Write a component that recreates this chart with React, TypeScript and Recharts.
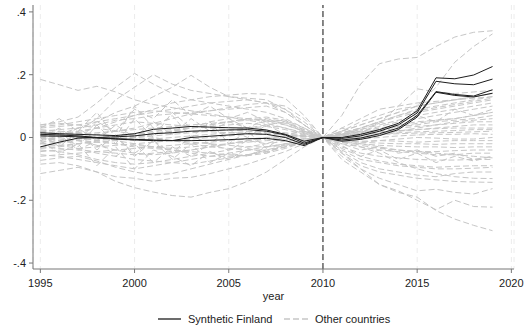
import React from "react";
import { LineChart, Line, XAxis, YAxis, CartesianGrid, ReferenceLine } from "recharts";

// Years covered by every series
const years = [
  1995, 1996, 1997, 1998, 1999, 2000, 2001, 2002, 2003, 2004, 2005, 2006, 2007,
  2008, 2009, 2010, 2011, 2012, 2013, 2014, 2015, 2016, 2017, 2018, 2019,
];

const xTicks = [1995, 2000, 2005, 2010, 2015, 2020];
const yTicks = [-0.4, -0.2, 0, 0.2, 0.4];

// Synthetic Finland estimates, 1995-2019
const sf1 = [0.015, 0.012, 0.01, 0.008, 0.006, 0.012, 0.026, 0.03, 0.035, 0.033, 0.031, 0.03, 0.024, 0.01, -0.012, 0, 0.0, 0.01, 0.025, 0.045, 0.085, 0.19, 0.187, 0.199, 0.226];
const sf2 = [-0.03, -0.015, -0.002, 0.0, 0.002, 0.005, 0.012, 0.015, 0.02, 0.022, 0.024, 0.025, 0.02, 0.008, -0.018, 0, -0.003, 0.005, 0.02, 0.04, 0.078, 0.179, 0.171, 0.168, 0.186];
const sf3 = [0.01, 0.008, 0.005, 0.0, -0.005, -0.008, -0.01, -0.01, 0.0, 0.004, 0.008, 0.012, 0.01, 0.0, -0.022, 0, -0.008, -0.002, 0.012, 0.03, 0.07, 0.146, 0.137, 0.132, 0.152];
const sf4 = [0.005, 0.004, 0.002, -0.002, -0.004, -0.006, -0.008, -0.01, -0.01, -0.009, -0.007, -0.004, -0.003, -0.01, -0.026, 0, -0.012, -0.006, 0.006, 0.025, 0.065, 0.144, 0.134, 0.129, 0.141];

// Other countries, 1995-2019
const g01 = [0.185, 0.168, 0.15, 0.163, 0.145, 0.12, 0.105, 0.095, 0.085, 0.075, 0.065, 0.055, 0.045, 0.03, 0.012, 0, 0.01, 0.02, 0.03, 0.04, 0.05, 0.055, 0.06, 0.07, 0.08];
const g02 = [0.04, 0.05, 0.065, 0.11, 0.16, 0.204, 0.17, 0.14, 0.12, 0.11, 0.1, 0.09, 0.08, 0.06, 0.03, 0, 0.015, 0.03, 0.05, 0.065, 0.08, 0.09, 0.1, 0.11, 0.12];
const g03 = [-0.01, 0.0, 0.02, 0.06, 0.12, 0.16, 0.2, 0.17, 0.15, 0.14, 0.13, 0.125, 0.12, 0.09, 0.04, 0, -0.01, -0.02, -0.03, -0.04, -0.045, -0.05, -0.055, -0.06, -0.065];
const g04 = [0.02, 0.01, 0.03, 0.05, 0.08, 0.1, 0.13, 0.16, 0.198, 0.16, 0.13, 0.12, 0.11, 0.08, 0.04, 0, 0.02, 0.04, 0.06, 0.08, 0.1, 0.11, 0.12, 0.13, 0.14];
const g05 = [0.0, -0.01, -0.02, -0.015, -0.01, 0.0, 0.01, 0.02, 0.03, 0.04, 0.05, 0.06, 0.05, 0.04, 0.02, 0, 0.07, 0.17, 0.235, 0.25, 0.255, 0.29, 0.32, 0.335, 0.34];
const g06 = [-0.03, -0.025, -0.02, -0.01, 0.0, 0.01, 0.02, 0.025, 0.03, 0.035, 0.04, 0.045, 0.04, 0.03, 0.015, 0, 0.02, 0.04, 0.06, 0.08, 0.1, 0.16, 0.24, 0.29, 0.33];
const g07 = [0.03, 0.035, 0.04, 0.05, 0.06, 0.07, 0.08, 0.09, 0.1, 0.11, 0.115, 0.12, 0.11, 0.09, 0.05, 0, 0.01, 0.025, 0.045, 0.1, 0.155, 0.145, 0.14, 0.145, 0.15];
const g08 = [0.01, 0.005, 0.015, 0.03, 0.05, 0.07, 0.09, 0.11, 0.12, 0.13, 0.135, 0.14, 0.138, 0.125, 0.07, 0, 0.03, 0.06, 0.09, 0.1, 0.11, 0.115, 0.12, 0.125, 0.13];
const g09 = [0.02, 0.025, 0.03, 0.04, 0.055, 0.06, 0.07, 0.075, 0.08, 0.085, 0.09, 0.095, 0.1, 0.08, 0.04, 0, 0.015, 0.03, 0.05, 0.07, 0.085, 0.095, 0.105, 0.115, 0.125];
const g10 = [-0.005, 0.03, -0.01, 0.05, 0.02, 0.09, 0.06, 0.12, 0.07, 0.1, 0.06, 0.08, 0.05, 0.055, 0.02, 0, 0.012, 0.025, 0.04, 0.055, 0.07, 0.08, 0.09, 0.1, 0.11];
const g11 = [0.0, -0.01, -0.005, 0.01, 0.02, 0.03, 0.045, 0.06, 0.075, 0.085, 0.095, 0.105, 0.11, 0.1, 0.06, 0, 0.008, 0.02, 0.035, 0.05, 0.06, 0.07, 0.08, 0.09, 0.1];
const g12 = [0.01, 0.01, 0.012, 0.015, 0.02, 0.025, 0.03, 0.035, 0.04, 0.045, 0.05, 0.055, 0.06, 0.05, 0.025, 0, 0.03, 0.01, 0.05, 0.03, 0.07, 0.05, 0.09, 0.07, 0.09];
const g13 = [-0.02, -0.015, -0.01, -0.005, 0.0, 0.005, 0.01, 0.02, 0.03, 0.04, 0.05, 0.06, 0.065, 0.055, 0.03, 0, 0.005, 0.015, 0.025, 0.035, 0.045, 0.055, 0.06, 0.07, 0.08];
const g14 = [0.015, -0.03, 0.02, -0.04, 0.01, -0.06, -0.01, -0.05, 0.005, -0.02, 0.025, 0.0, 0.04, 0.01, 0.02, 0, 0.01, 0.018, 0.025, 0.035, 0.04, 0.05, 0.055, 0.06, 0.07];
const g15 = [-0.01, 0.02, -0.03, 0.04, -0.02, 0.06, 0.0, 0.08, 0.03, 0.05, 0.06, 0.03, 0.04, 0.05, 0.015, 0, -0.005, 0.0, 0.01, 0.02, 0.03, 0.04, 0.05, 0.055, 0.06];
const g16 = [0.005, 0.0, -0.01, -0.025, -0.04, -0.05, -0.055, -0.05, -0.04, -0.03, -0.02, -0.01, 0.0, 0.005, 0.005, 0, 0.005, 0.012, 0.02, 0.03, 0.035, 0.04, 0.045, 0.05, 0.05];
const g17 = [-0.03, -0.035, -0.04, -0.045, -0.05, -0.055, -0.05, -0.045, -0.04, -0.03, -0.02, -0.01, -0.005, 0.0, 0.002, 0, 0.002, 0.008, 0.015, 0.02, 0.025, 0.03, 0.035, 0.04, 0.04];
const g18 = [-0.04, -0.045, -0.055, -0.07, -0.08, -0.085, -0.08, -0.07, -0.06, -0.05, -0.04, -0.03, -0.02, -0.012, -0.005, 0, 0.008, 0.012, 0.018, 0.022, 0.025, 0.028, 0.03, 0.03, 0.03];
const g19 = [-0.055, -0.06, -0.07, -0.08, -0.09, -0.1, -0.09, -0.08, -0.07, -0.06, -0.05, -0.04, -0.03, -0.02, -0.01, 0, -0.005, 0.0, 0.008, 0.015, 0.018, 0.02, 0.022, 0.025, 0.025];
const g20 = [-0.073, -0.065, -0.06, -0.075, -0.095, -0.11, -0.12, -0.115, -0.1, -0.085, -0.07, -0.055, -0.04, -0.025, -0.012, 0, 0.0, 0.005, 0.01, 0.012, 0.014, 0.015, 0.016, 0.018, 0.02];
const g21 = [-0.115, -0.105, -0.095, -0.11, -0.125, -0.13, -0.14, -0.13, -0.127, -0.115, -0.1, -0.085, -0.065, -0.045, -0.02, 0, -0.005, -0.005, 0.0, 0.005, 0.008, 0.01, 0.01, 0.012, 0.01];
const g22 = [-0.085, -0.08, -0.09, -0.11, -0.14, -0.16, -0.174, -0.185, -0.19, -0.175, -0.163, -0.14, -0.11, -0.07, -0.03, 0, -0.01, -0.015, -0.01, -0.005, 0.0, -0.002, -0.005, -0.005, 0.0];
const g23 = [0.03, 0.06, 0.02, 0.08, 0.0, 0.1, 0.03, 0.07, 0.0, 0.05, -0.02, 0.02, -0.035, 0.01, -0.015, 0, -0.008, -0.012, -0.01, -0.012, -0.015, -0.012, -0.01, -0.01, -0.01];
const g24 = [0.0, 0.005, 0.0, -0.01, -0.02, -0.03, -0.035, -0.04, -0.045, -0.05, -0.055, -0.058, -0.05, -0.035, -0.015, 0, -0.01, -0.015, -0.018, -0.02, -0.02, -0.022, -0.02, -0.02, -0.02];
const g25 = [-0.01, -0.05, -0.02, -0.09, -0.03, -0.1, -0.04, -0.06, -0.09, -0.045, -0.07, -0.035, -0.05, -0.02, -0.008, 0, -0.015, -0.02, -0.025, -0.028, -0.03, -0.03, -0.032, -0.03, -0.03];
const g26 = [0.02, 0.015, 0.005, 0.0, -0.005, -0.01, -0.005, 0.0, 0.005, 0.01, 0.015, 0.018, 0.02, 0.015, 0.008, 0, -0.012, -0.025, -0.035, -0.04, -0.045, -0.045, -0.042, -0.04, -0.04];
const g27 = [-0.02, -0.025, -0.035, -0.05, -0.06, -0.07, -0.075, -0.08, -0.085, -0.075, -0.065, -0.055, -0.045, -0.03, -0.012, 0, -0.02, -0.03, -0.04, -0.045, -0.05, -0.055, -0.055, -0.05, -0.05];
const g28 = [0.005, 0.01, 0.02, 0.03, 0.04, 0.05, 0.045, 0.04, 0.035, 0.03, 0.025, 0.02, 0.015, 0.01, 0.005, 0, -0.025, -0.06, -0.04, -0.07, -0.05, -0.08, -0.06, -0.075, -0.06];
const g29 = [-0.035, -0.03, -0.02, -0.01, -0.005, 0.0, 0.005, 0.01, 0.015, 0.02, 0.025, 0.03, 0.035, 0.025, 0.01, 0, -0.03, -0.05, -0.06, -0.065, -0.07, -0.072, -0.072, -0.07, -0.07];
const g30 = [0.01, 0.012, 0.008, 0.0, -0.01, -0.02, -0.03, -0.04, -0.05, -0.06, -0.06, -0.055, -0.045, -0.03, -0.015, 0, -0.035, -0.06, -0.075, -0.085, -0.09, -0.095, -0.092, -0.09, -0.09];
const g31 = [-0.045, -0.04, -0.035, -0.03, -0.025, -0.02, -0.015, -0.01, -0.005, 0.0, 0.005, 0.01, 0.012, 0.01, 0.005, 0, -0.04, -0.07, -0.08, -0.09, -0.095, -0.1, -0.1, -0.098, -0.095];
const g32 = [0.035, 0.04, 0.05, 0.06, 0.07, 0.08, 0.085, 0.08, 0.075, 0.07, 0.065, 0.06, 0.055, 0.045, 0.025, 0, -0.045, -0.08, -0.1, -0.11, -0.12, -0.125, -0.115, -0.11, -0.11];
const g33 = [-0.06, -0.055, -0.05, -0.045, -0.04, -0.035, -0.03, -0.025, -0.02, -0.015, -0.01, -0.005, 0.0, 0.002, 0.002, 0, -0.05, -0.09, -0.11, -0.12, -0.13, -0.135, -0.14, -0.142, -0.143];
const g34 = [0.0, -0.005, -0.01, -0.015, -0.02, -0.025, -0.03, -0.035, -0.03, -0.025, -0.02, -0.015, -0.01, -0.008, -0.004, 0, -0.06, -0.1, -0.13, -0.15, -0.17, -0.165, -0.175, -0.18, -0.163];
const g35 = [0.025, 0.02, 0.015, 0.01, 0.005, 0.0, -0.005, -0.01, -0.015, -0.02, -0.025, -0.03, -0.03, -0.025, -0.012, 0, -0.05, -0.1, -0.15, -0.17, -0.2, -0.23, -0.2, -0.22, -0.222];
const g36 = [-0.015, -0.01, -0.005, 0.0, 0.005, 0.01, 0.015, 0.02, 0.02, 0.018, 0.015, 0.012, 0.01, 0.008, 0.004, 0, -0.07, -0.11, -0.15, -0.175, -0.19, -0.233, -0.26, -0.28, -0.297];
const g37 = [0.04, 0.045, 0.04, 0.03, 0.02, 0.01, 0.0, -0.01, -0.02, -0.03, -0.035, -0.04, -0.04, -0.03, -0.015, 0, -0.015, -0.03, -0.05, -0.08, -0.1, -0.115, -0.125, -0.13, -0.131];
const g38 = [0.02, 0.0, 0.03, -0.01, 0.04, 0.0, 0.05, 0.01, 0.06, 0.02, 0.05, 0.03, 0.06, 0.04, 0.02, 0, 0.02, 0.05, 0.07, 0.09, 0.1, 0.11, 0.12, 0.13, 0.14];
const g39 = [-0.02, 0.01, -0.04, -0.01, -0.06, -0.02, -0.08, -0.03, -0.06, -0.02, -0.04, -0.01, -0.02, 0.0, -0.005, 0, 0.01, 0.03, 0.05, 0.07, 0.09, 0.1, 0.11, 0.12, 0.13];
const g40 = [0.0, -0.02, 0.01, -0.03, 0.0, -0.05, -0.01, -0.07, -0.02, -0.08, -0.05, -0.06, -0.03, -0.02, -0.01, 0, -0.02, -0.04, -0.03, -0.05, -0.04, -0.06, -0.05, -0.07, -0.06];

const synthetic = [sf1, sf2, sf3, sf4];
const others = [
  g01, g02, g03, g04, g05, g06, g07, g08, g09, g10, g11, g12, g13, g14, g15, g16, g17, g18, g19, g20,
  g21, g22, g23, g24, g25, g26, g27, g28, g29, g30, g31, g32, g33, g34, g35, g36, g37, g38, g39, g40,
];

const rows = years.map((year, i) => {
  const row: Record<string, number> = { year };
  others.forEach((s, k) => (row[`o${k}`] = s[i]));
  synthetic.forEach((s, k) => (row[`s${k}`] = s[i]));
  return row;
});

const FONT = "'Liberation Sans', Arial, sans-serif";
const AXIS = "#777";
const TEXT = "#222";
const GREY = "#c6c6c6";
const BLACK = "#1c1c1c";

const fmtY = (v: number) => {
  if (v === 0) return "0";
  const s = String(Math.round(v * 10) / 10);
  return s.replace("0.", ".");
};

export default function App() {
  return (
    <div style={{ position: "absolute", left: 0, top: 0, width: 524, height: 328, background: "#fff" }}>
      <LineChart
        width={524}
        height={328}
        data={rows}
        margin={{ top: 5, right: 10, left: 0, bottom: 25 }}
      >
        <CartesianGrid horizontal={false} stroke="#ececec" strokeDasharray="5 4" />
        <XAxis
          dataKey="year"
          type="number"
          domain={[1994.61, 2020.14]}
          ticks={xTicks}
          allowDataOverflow
          height={34}
          tickSize={4}
          tickMargin={6}
          stroke={AXIS}
          tick={{ fill: TEXT, fontSize: 11, fontFamily: FONT }}
          label={{ value: "year", position: "insideBottom", offset: 3, fill: TEXT, fontSize: 11, fontFamily: FONT }}
        />
        <YAxis
          type="number"
          domain={[-0.419, 0.422]}
          ticks={yTicks}
          allowDataOverflow
          width={33}
          tickSize={4}
          tickMargin={3}
          stroke={AXIS}
          tickFormatter={fmtY}
          tick={{ fill: TEXT, fontSize: 11, fontFamily: FONT }}
        />
        {others.map((_, k) => (
          <Line
            key={`o${k}`}
            dataKey={`o${k}`}
            type="linear"
            stroke={GREY}
            strokeWidth={1}
            strokeDasharray="6 3"
            dot={false}
            activeDot={false}
            isAnimationActive={false}
          />
        ))}
        <ReferenceLine x={2010} stroke="#3a3a3a" strokeWidth={1.2} strokeDasharray="6 3" />
        {synthetic.map((_, k) => (
          <Line
            key={`s${k}`}
            dataKey={`s${k}`}
            type="linear"
            stroke={BLACK}
            strokeWidth={1}
            dot={false}
            activeDot={false}
            isAnimationActive={false}
          />
        ))}
      </LineChart>
      <svg
        width={524}
        height={328}
        style={{ position: "absolute", left: 0, top: 0, pointerEvents: "none" }}
      >
        <line x1={158} y1={319} x2={181} y2={319} stroke={BLACK} strokeWidth={1.3} />
        <text x={188} y={323} fontSize={11} fontFamily={FONT} fill={TEXT}>
          Synthetic Finland
        </text>
        <line x1={284} y1={319} x2={308} y2={319} stroke={GREY} strokeWidth={1.3} strokeDasharray="6 3" />
        <text x={315} y={323} fontSize={11} fontFamily={FONT} fill={TEXT}>
          Other countries
        </text>
      </svg>
    </div>
  );
}
